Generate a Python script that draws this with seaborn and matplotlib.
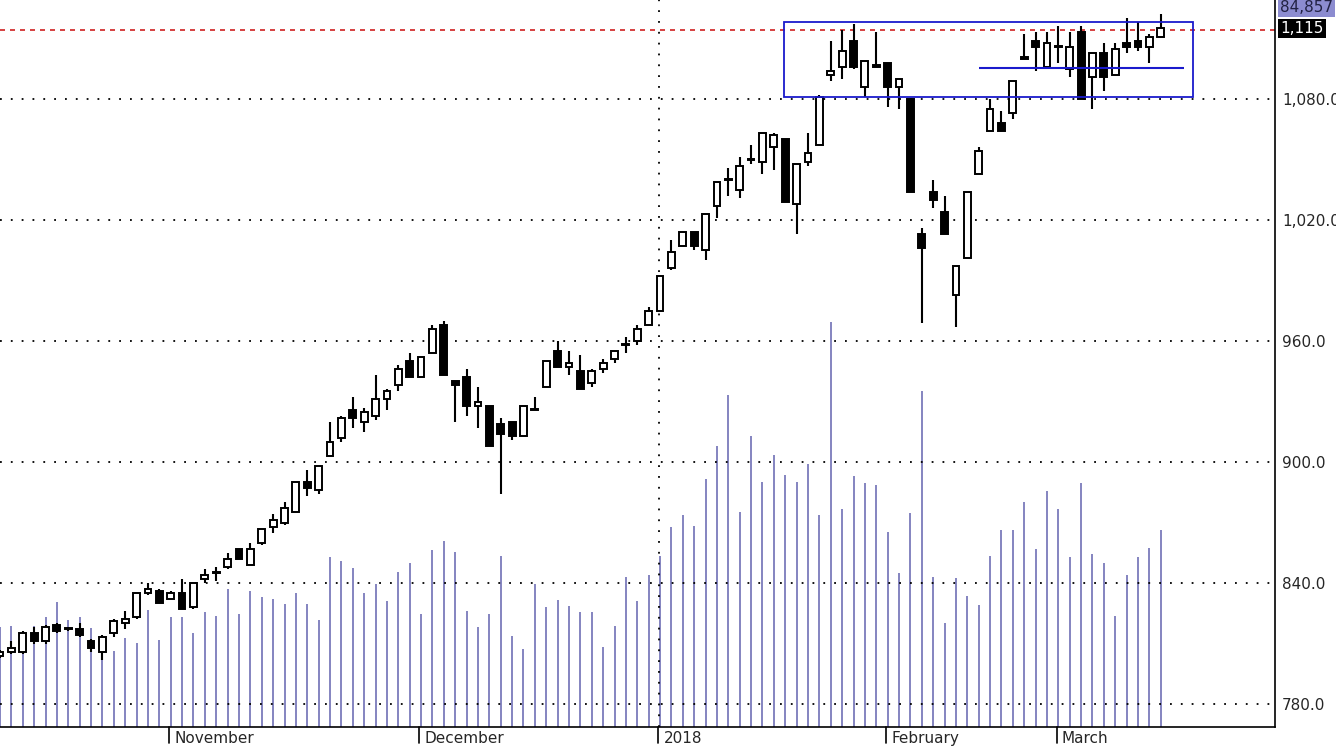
import numpy as np
import pandas as pd
import matplotlib
matplotlib.use("Agg")
import matplotlib.pyplot as plt
import matplotlib.transforms as mtransforms
from matplotlib.patches import Rectangle
import seaborn as sns

opens = [804,806,806,815,811,819,817,817,811,806,815,820,823,835,836,832,835,828,842,845,
         848,857,849,860,868,870,875,890,886,903,
         912,926,920,923,931,938,950,942,954,968,940,942,928,928,919,920,913,926,937,955,
         947,945,939,946,951,958,960,968,
         975,996,1007,1014,1005,1027,1040,1035,1050,1049,1056,1060,1028,1049,1057,1092,1096,1109,1086,1097,
         1098,1086,1080,1013,1034,1024,983,1001,1043,
         1064,1068,1073,1101,1109,1096,1106,1095,1113,1091,1103,1092,1108,1109,1106,1111]
highs = [807,811,816,818,819,820,818,820,812,814,822,826,835,840,837,836,842,840,847,848,
         855,857,860,867,874,880,890,896,898,920,
         923,932,927,943,936,948,954,952,968,970,940,946,937,928,922,920,928,932,950,960,
         955,953,946,951,955,962,968,977,
         992,1010,1014,1014,1023,1039,1046,1051,1057,1063,1063,1060,1048,1063,1082,1109,1114,1117,1099,1113,
         1098,1090,1080,1016,1040,1032,997,1034,1056,
         1080,1074,1089,1112,1113,1113,1116,1113,1116,1103,1108,1108,1120,1118,1112,1122]
lows = [803,805,805,810,810,815,816,813,806,802,813,817,822,834,830,832,827,827,840,841,
        847,852,849,859,865,869,875,883,884,903,
        910,917,915,921,926,935,942,942,954,943,920,923,917,908,884,911,913,926,937,947,
        943,936,937,944,949,954,958,968,
        975,995,1007,1005,1000,1021,1032,1031,1048,1043,1045,1029,1013,1047,1057,1089,1090,1095,1081,1096,
        1076,1075,1034,969,1026,1013,967,1001,1043,
        1064,1064,1070,1100,1094,1095,1098,1091,1080,1075,1084,1092,1103,1104,1098,1111]
closes = [806,808,815,811,818,816,817,814,808,813,821,822,835,837,830,835,827,840,844,845,
          852,852,857,867,871,877,890,887,898,910,
          922,922,925,931,935,946,942,952,966,943,938,928,930,908,914,913,928,926,950,947,
          949,936,945,949,955,958,966,975,
          992,1004,1014,1007,1023,1039,1040,1047,1050,1063,1062,1029,1048,1053,1081,1094,1104,1096,1099,1096,
          1086,1090,1034,1006,1030,1013,997,1034,1054,
          1075,1064,1089,1100,1106,1108,1106,1106,1080,1103,1091,1105,1106,1106,1111,1115]
# volume (chart units; last bar = 84,857)
volume = [100,101,77,101,110,125,107,110,99,77,76,89,84,117,87,110,110,94,115,111,
          138,113,136,130,128,123,134,123,107,170,166,159,134,143,126,155,164,113,177,186,
          175,116,100,113,171,91,78,143,120,127,121,115,115,
          80,101,150,126,152,171,200,212,201,248,281,332,215,291,245,272,252,245,263,212,
          405,218,251,244,242,195,154,214,336,150,104,149,131,122,171,197,197,225,178,236,
          218,170,244,173,164,111,152,170,179,197]
month_labels = ["November", "December", "2018", "February", "March"]
month_idx = [15, 37, 58, 78, 93]
price_ticks = [780, 840, 900, 960, 1020, 1080]
last_price = 1115
last_volume_label = "84,857"
box_x = (68.9, 104.8)
box_y = (1081, 1118)
mid_line = (86, 104, 1095.5)

df = pd.DataFrame(dict(o=opens, h=highs, l=lows, c=closes, v=volume))
df["i"] = np.arange(len(df))

sns.set_style("white")
plt.rcParams["font.family"] = ["DejaVu Sans"]

fig = plt.figure(figsize=(13.36, 7.5), dpi=100)
ax = fig.add_axes([0, 23/750, 1275/1336, 727/750])
axv = ax.twinx()
axv.set_zorder(0)
ax.set_zorder(1)
ax.patch.set_visible(False)

# volume
axv.vlines(df["i"], 0, df["v"], color="#6f6fb5", lw=1.2)
axv.set_ylim(0, 727)
axv.set_yticks([])
for s in axv.spines.values():
    s.set_visible(False)

# grid
for p in price_ticks:
    ax.axhline(p, color="black", ls=(0, (1, 5)), lw=1.3, zorder=0)
ax.axvline(57.9, color="black", ls=(0, (1, 5)), lw=1.3, zorder=0)
ax.axhline(last_price - 0.8, color="#d02020", ls=(0, (3, 3)), lw=1.2, zorder=1)

# candles
ax.vlines(df["i"], df["l"], df["h"], color="black", lw=1.5, zorder=2)
up = df[df["c"] >= df["o"]]
dn = df[df["c"] < df["o"]]
w = 0.6
hb = np.maximum(np.abs(up["c"] - up["o"]), 0.5)
ax.bar(up["i"], hb, bottom=np.minimum(up["o"], up["c"]), width=w,
       color="white", edgecolor="black", lw=1.4, zorder=3)
ax.bar(dn["i"], dn["o"] - dn["c"], bottom=dn["c"], width=w,
       color="black", edgecolor="black", lw=1.4, zorder=3)

# box and level
ax.add_patch(Rectangle((box_x[0], box_y[0]), box_x[1] - box_x[0], box_y[1] - box_y[0],
                       fill=False, edgecolor="#1a1acc", lw=1.3, zorder=4))
ax.hlines(mid_line[2], mid_line[0], mid_line[1], color="#1a1acc", lw=1.5, zorder=4)

ax.set_xlim(0, 1275/11.38)
ax.set_ylim(768.6, 1129.1)

ax.yaxis.tick_right()
ax.set_yticks(price_ticks)
ax.set_yticklabels([f"{p:,.1f}" for p in price_ticks], fontsize=11)
ax.tick_params(axis="y", length=0, pad=5)
ax.set_xticks([])
for k in ["top", "left"]:
    ax.spines[k].set_visible(False)
ax.spines["right"].set_color("black")
ax.spines["bottom"].set_color("black")
ax.spines["right"].set_linewidth(1.2)
ax.spines["bottom"].set_linewidth(1.2)

trans = mtransforms.blended_transform_factory(ax.transData, ax.transAxes)
for lab, i in zip(month_labels, month_idx):
    x = i - 0.15
    ax.plot([x, x], [0, -0.022], transform=trans, color="black", lw=1.2, clip_on=False)
    ax.text(x + 0.45, -0.016, lab, transform=trans, ha="left", va="center", fontsize=11)

transr = mtransforms.blended_transform_factory(ax.transAxes, ax.transData)
ax.text(1.004, last_price, f"{last_price:,}", transform=transr, ha="left", va="center",
        fontsize=11, color="white",
        bbox=dict(boxstyle="square,pad=0.15", fc="black", ec="none"))
ax.text(1.004, 0.99, last_volume_label, transform=ax.transAxes, ha="left", va="center",
        fontsize=11, color="#222244",
        bbox=dict(boxstyle="square,pad=0.15", fc="#8c8cd0", ec="none"))

fig.savefig("out.png", dpi=100)
